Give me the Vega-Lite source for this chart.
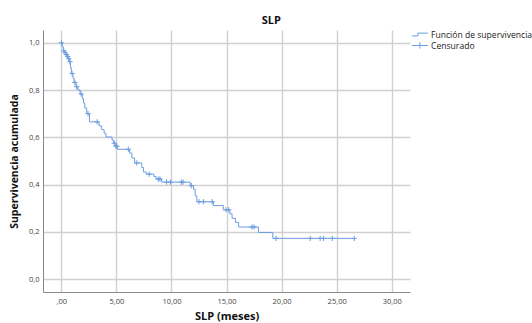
{
  "$schema": "https://vega.github.io/schema/vega-lite/v6.json",
  "width": 367,
  "height": 262,
  "autosize": {"type": "none"},
  "padding": {"left": 43, "top": 30, "right": 122, "bottom": 31},
  "background": "white",
  "config": {
    "view": {"stroke": null},
    "font": "Open Sans",
    "axis": {
      "gridColor": "#d0d0d0",
      "gridWidth": 1.4,
      "domainColor": "#8a8a8a",
      "domainWidth": 1,
      "ticks": false,
      "labelFont": "Open Sans",
      "labelFontSize": 7.5,
      "labelColor": "#444444",
      "titleFont": "Open Sans",
      "titleFontWeight": "bold",
      "titleColor": "#111111"
    }
  },
  "title": {
    "text": "SLP",
    "anchor": "middle",
    "frame": "bounds",
    "font": "Open Sans",
    "fontSize": 11,
    "fontWeight": "bold",
    "color": "#111111",
    "offset": 4
  },
  "data": {
    "values": [
      {"t": 0, "s": 1.0, "c": 0},
      {"t": 0.0, "s": 1.0, "c": 1},
      {"t": 0.08, "s": 0.983, "c": 0},
      {"t": 0.18, "s": 0.966, "c": 0},
      {"t": 0.22, "s": 0.966, "c": 1},
      {"t": 0.3, "s": 0.958, "c": 0},
      {"t": 0.34, "s": 0.958, "c": 1},
      {"t": 0.42, "s": 0.95, "c": 0},
      {"t": 0.46, "s": 0.95, "c": 1},
      {"t": 0.52, "s": 0.942, "c": 0},
      {"t": 0.56, "s": 0.942, "c": 1},
      {"t": 0.62, "s": 0.934, "c": 0},
      {"t": 0.66, "s": 0.934, "c": 1},
      {"t": 0.72, "s": 0.92, "c": 0},
      {"t": 0.78, "s": 0.92, "c": 1},
      {"t": 0.82, "s": 0.895, "c": 0},
      {"t": 0.9, "s": 0.87, "c": 0},
      {"t": 0.97, "s": 0.87, "c": 1},
      {"t": 1.05, "s": 0.851, "c": 0},
      {"t": 1.15, "s": 0.832, "c": 0},
      {"t": 1.22, "s": 0.832, "c": 1},
      {"t": 1.32, "s": 0.814, "c": 0},
      {"t": 1.38, "s": 0.814, "c": 1},
      {"t": 1.5, "s": 0.8, "c": 0},
      {"t": 1.7, "s": 0.783, "c": 0},
      {"t": 1.8, "s": 0.783, "c": 1},
      {"t": 1.9, "s": 0.764, "c": 0},
      {"t": 2.0, "s": 0.745, "c": 0},
      {"t": 2.12, "s": 0.724, "c": 0},
      {"t": 2.3, "s": 0.7, "c": 0},
      {"t": 2.42, "s": 0.7, "c": 1},
      {"t": 2.55, "s": 0.665, "c": 0},
      {"t": 3.25, "s": 0.665, "c": 1},
      {"t": 3.42, "s": 0.648, "c": 0},
      {"t": 3.66, "s": 0.632, "c": 0},
      {"t": 3.88, "s": 0.617, "c": 0},
      {"t": 4.05, "s": 0.601, "c": 0},
      {"t": 4.6, "s": 0.588, "c": 0},
      {"t": 4.75, "s": 0.575, "c": 0},
      {"t": 4.8, "s": 0.575, "c": 1},
      {"t": 4.9, "s": 0.562, "c": 0},
      {"t": 4.95, "s": 0.562, "c": 1},
      {"t": 5.05, "s": 0.562, "c": 1},
      {"t": 5.1, "s": 0.549, "c": 0},
      {"t": 6.08, "s": 0.549, "c": 1},
      {"t": 6.2, "s": 0.533, "c": 0},
      {"t": 6.4, "s": 0.512, "c": 0},
      {"t": 6.65, "s": 0.491, "c": 0},
      {"t": 6.85, "s": 0.491, "c": 1},
      {"t": 7.3, "s": 0.472, "c": 0},
      {"t": 7.45, "s": 0.453, "c": 0},
      {"t": 7.7, "s": 0.444, "c": 0},
      {"t": 7.97, "s": 0.444, "c": 1},
      {"t": 8.4, "s": 0.434, "c": 0},
      {"t": 8.6, "s": 0.423, "c": 0},
      {"t": 8.8, "s": 0.423, "c": 1},
      {"t": 8.95, "s": 0.423, "c": 1},
      {"t": 9.1, "s": 0.41, "c": 0},
      {"t": 9.55, "s": 0.41, "c": 1},
      {"t": 9.9, "s": 0.41, "c": 1},
      {"t": 10.9, "s": 0.41, "c": 1},
      {"t": 11.05, "s": 0.41, "c": 1},
      {"t": 11.7, "s": 0.395, "c": 0},
      {"t": 11.8, "s": 0.395, "c": 1},
      {"t": 12.0, "s": 0.38, "c": 0},
      {"t": 12.15, "s": 0.352, "c": 0},
      {"t": 12.3, "s": 0.327, "c": 0},
      {"t": 12.5, "s": 0.327, "c": 1},
      {"t": 12.9, "s": 0.327, "c": 1},
      {"t": 13.7, "s": 0.327, "c": 1},
      {"t": 13.8, "s": 0.311, "c": 0},
      {"t": 14.7, "s": 0.293, "c": 0},
      {"t": 14.95, "s": 0.293, "c": 1},
      {"t": 15.2, "s": 0.293, "c": 1},
      {"t": 15.3, "s": 0.276, "c": 0},
      {"t": 15.5, "s": 0.257, "c": 0},
      {"t": 15.8, "s": 0.24, "c": 0},
      {"t": 16.1, "s": 0.22, "c": 0},
      {"t": 17.3, "s": 0.22, "c": 1},
      {"t": 17.5, "s": 0.22, "c": 1},
      {"t": 17.9, "s": 0.197, "c": 0},
      {"t": 19.2, "s": 0.172, "c": 0},
      {"t": 19.5, "s": 0.172, "c": 1},
      {"t": 22.6, "s": 0.172, "c": 1},
      {"t": 23.5, "s": 0.172, "c": 1},
      {"t": 23.8, "s": 0.172, "c": 1},
      {"t": 24.6, "s": 0.172, "c": 1},
      {"t": 26.6, "s": 0.172, "c": 1}
    ]
  },
  "encoding": {
    "x": {
      "field": "t",
      "type": "quantitative",
      "scale": {"domain": [-1.67, 31.66], "nice": false, "zero": false},
      "axis": {
        "title": "SLP (meses)",
        "titleFontSize": 11,
        "titlePadding": 6,
        "values": [0, 5, 10, 15, 20, 25, 30],
        "labelPadding": 5,
        "labelExpr": "datum.value == 0 ? ',00' : replace(format(datum.value, '.2f'), '.', ',')"
      }
    },
    "y": {
      "field": "s",
      "type": "quantitative",
      "scale": {"domain": [-0.055, 1.054], "nice": false, "zero": false},
      "axis": {
        "title": "Supervivencia acumulada",
        "titleFontSize": 10.5,
        "titlePadding": 9,
        "values": [0, 0.2, 0.4, 0.6, 0.8, 1.0],
        "labelPadding": 4,
        "labelExpr": "replace(format(datum.value, '.1f'), '.', ',')"
      }
    }
  },
  "layer": [
    {
      "mark": {"type": "line", "interpolate": "step-after", "strokeWidth": 1, "color": "#6b9ee0"},
      "encoding": {
        "color": {
          "datum": "Función de supervivencia",
          "scale": {"domain": ["Función de supervivencia", "Censurado"], "range": ["#6b9ee0", "#6b9ee0"]},
          "legend": {
            "title": null,
            "orient": "right",
            "offset": 1,
            "labelFont": "Open Sans",
            "labelFontSize": 8.6,
            "labelColor": "#222222",
            "labelOffset": 11,
            "rowPadding": 0,
            "symbolSize": 64,
            "symbolStrokeColor": "#6b9ee0",
            "symbolFillColor": "transparent",
            "encode": {
              "symbols": {
                "update": {
                  "shape": {"signal": "datum.value === 'Censurado' ? 'M-0.9,0L3.1,0M1.1,-0.8L1.1,0.8' : 'M-0.9,0.35L0.6,0.35L0.6,-0.35L3.1,-0.35'"},
                  "size": {"value": 64},
                  "stroke": {"value": "#6b9ee0"},
                  "strokeWidth": {"value": 1},
                  "fill": {"value": "transparent"},
                  "opacity": {"value": 1}
                }
              }
            }
          }
        }
      }
    },
    {
      "transform": [{"filter": "datum.c == 1"}],
      "mark": {"type": "point", "shape": "M-1,0L1,0M0,-1L0,1", "size": 28, "strokeWidth": 1, "filled": false, "opacity": 1},
      "encoding": {
        "color": {"datum": "Censurado"}
      }
    }
  ]
}
